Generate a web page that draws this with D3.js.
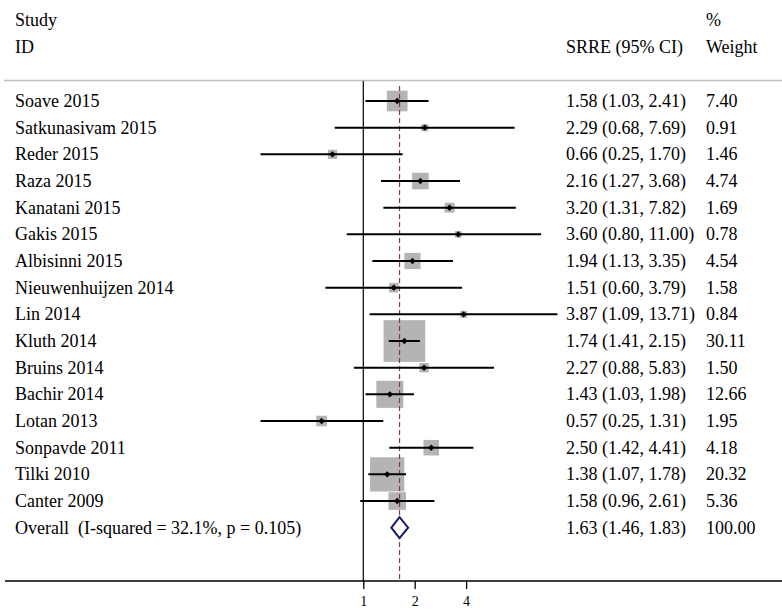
<!DOCTYPE html>
<html><head><meta charset="utf-8">
<script src="https://cdn.jsdelivr.net/npm/d3@7"></script>
<style>body{margin:0;background:#fff}text{white-space:pre}</style>
</head><body><svg id="c" width="782" height="610" font-family="'Liberation Serif', 'Times New Roman', Tinos, 'DejaVu Serif', serif"></svg>
<script>
const studies = ["Soave 2015","Satkunasivam 2015","Reder 2015","Raza 2015","Kanatani 2015","Gakis 2015","Albisinni 2015","Nieuwenhuijzen 2014","Lin 2014","Kluth 2014","Bruins 2014","Bachir 2014","Lotan 2013","Sonpavde 2011","Tilki 2010","Canter 2009"];
const est   = [1.58,2.29,0.66,2.16,3.20,3.60,1.94,1.51,3.87,1.74,2.27,1.43,0.57,2.50,1.38,1.58];
const lower = [1.03,0.68,0.25,1.27,1.31,0.80,1.13,0.60,1.09,1.41,0.88,1.03,0.25,1.42,1.07,0.96];
const upper = [2.41,7.69,1.70,3.68,7.82,11.00,3.35,3.79,13.71,2.15,5.83,1.98,1.31,4.41,1.78,2.61];
const weights = [7.40,0.91,1.46,4.74,1.69,0.78,4.54,1.58,0.84,30.11,1.50,12.66,1.95,4.18,20.32,5.36];
const overall = {label:"Overall  (I-squared = 32.1%, p = 0.105)", est:1.63, lower:1.46, upper:1.83, weight:"100.00"};
const tickValues = [1,2,4];

const svg = d3.select("#c");
const x = d3.scaleLog().domain([1,4]).range([363.3,466.1]);
const y = d3.scaleLinear().domain([0,16]).range([101,527.7]);
const fs = 18;
const fmt = d3.format(".2f");
const txt = (xx,yy,s)=>svg.append("text").attr("x",xx).attr("y",yy).attr("font-size",fs).attr("fill","#000").text(s);

// header
txt(15,26,"Study"); txt(15,53,"ID"); txt(566,53,"SRRE (95% CI)"); txt(706,26,"%"); txt(706,53,"Weight");

// separator
svg.append("line").attr("x1",4).attr("x2",782).attr("y1",80.5).attr("y2",80.5).attr("stroke","#c0c0c0").attr("stroke-width",1.5);

// null line
svg.append("line").attr("x1",x(1)).attr("x2",x(1)).attr("y1",81).attr("y2",581).attr("stroke","#000").attr("stroke-width",1.2);

const idx = d3.range(studies.length);
const side = i=>7.6*Math.sqrt(weights[i]);
svg.selectAll("rect.box").data(idx).join("rect").attr("class","box")
  .attr("x",i=>x(est[i])-side(i)/2).attr("y",i=>y(i)-side(i)/2)
  .attr("width",side).attr("height",side).attr("fill","#b4b4b4");

svg.append("line").attr("x1",x(overall.est)).attr("x2",x(overall.est)).attr("y1",86).attr("y2",581)
  .attr("stroke","#7a3a55").attr("stroke-width",1.2).attr("stroke-dasharray","5,3");

svg.selectAll("line.ci").data(idx).join("line").attr("class","ci")
  .attr("x1",i=>x(lower[i])).attr("x2",i=>x(upper[i]))
  .attr("y1",i=>y(i)).attr("y2",i=>y(i)).attr("stroke","#000").attr("stroke-width",2);
svg.selectAll("path.pt").data(idx).join("path").attr("class","pt")
  .attr("d",i=>{const cx=x(est[i]),cy=y(i),r=3.2;return `M${cx},${cy-r}L${cx+r},${cy}L${cx},${cy+r}L${cx-r},${cy}Z`;})
  .attr("fill","#000");

const oy = y(16);
svg.append("path").attr("d",`M${x(overall.lower)},${oy}L${x(overall.est)},${oy-10.5}L${x(overall.upper)},${oy}L${x(overall.est)},${oy+10.5}Z`)
  .attr("fill","#fff").attr("stroke","#1a1a6e").attr("stroke-width",2);

svg.selectAll("text.st").data(idx).join("text").attr("class","st")
  .attr("x",15).attr("y",i=>y(i)+6).attr("font-size",fs).text(i=>studies[i]);
svg.selectAll("text.ci").data(idx).join("text").attr("class","ci")
  .attr("x",566).attr("y",i=>y(i)+6).attr("font-size",fs)
  .text(i=>`${fmt(est[i])} (${fmt(lower[i])}, ${fmt(upper[i])})`);
svg.selectAll("text.w").data(idx).join("text").attr("class","w")
  .attr("x",706).attr("y",i=>y(i)+6).attr("font-size",fs).text(i=>fmt(weights[i]));
txt(15,oy+6,overall.label);
txt(566,oy+6,`${fmt(overall.est)} (${fmt(overall.lower)}, ${fmt(overall.upper)})`);
txt(706,oy+6,overall.weight);

// axis
svg.append("line").attr("x1",5).attr("x2",782).attr("y1",581).attr("y2",581).attr("stroke","#000").attr("stroke-width",1.5);
const axis = d3.axisBottom(x).tickValues(tickValues).tickFormat(d3.format("d")).tickSize(8).tickPadding(7);
const g = svg.append("g").attr("transform","translate(0,581)").call(axis);
g.attr("font-family",null);
g.select(".domain").remove();
g.selectAll(".tick line").attr("stroke","#000").attr("stroke-width",1.3);
g.selectAll(".tick text").attr("font-size",14).attr("fill","#000");
</script></body></html>
